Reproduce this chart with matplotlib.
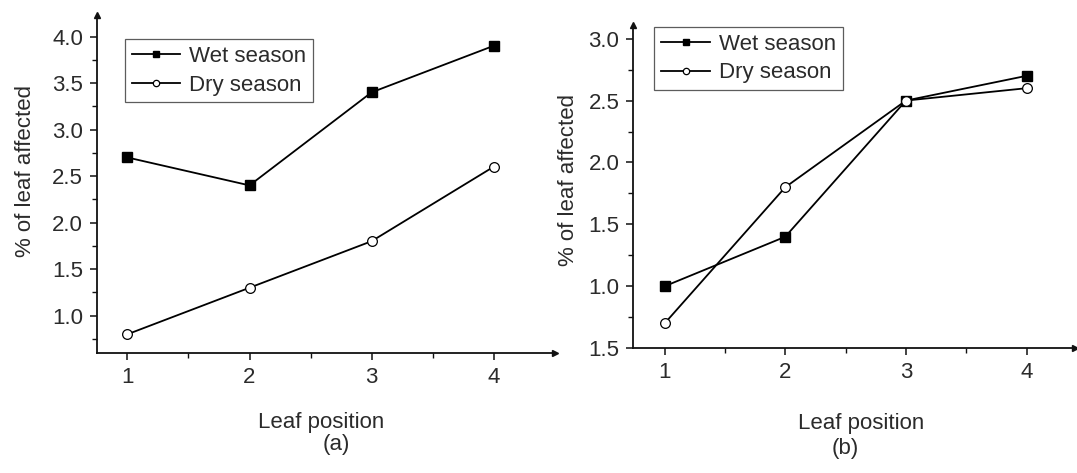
import numpy as np
import matplotlib
matplotlib.use('Agg')
import matplotlib.pyplot as plt
from matplotlib.ticker import FixedLocator, MultipleLocator

plt.rcParams['font.family'] = ['Liberation Sans', 'DejaVu Sans']

# ─── data ───
positions = [1, 2, 3, 4]

wet_a = [2.7, 2.4, 3.4, 3.9]
dry_a = [0.8, 1.3, 1.8, 2.6]

wet_b = [1.0, 1.4, 2.5, 2.7]
dry_b = [0.7, 1.8, 2.5, 2.6]

yticks_a = [1.0, 1.5, 2.0, 2.5, 3.0, 3.5, 4.0]
yticks_b = [0.5, 1.0, 1.5, 2.0, 2.5, 3.0]
# the original figure labels its bottom tick "1.5"
ylabels_b = ['1.5', '1.0', '1.5', '2.0', '2.5', '3.0']

TXT = '#2b2b2b'
FS = 16

fig = plt.figure(figsize=(10.77, 4.73), dpi=100)
ax_a = fig.add_axes([0.090, 0.254, 0.425, 0.714])
ax_b = fig.add_axes([0.588, 0.264, 0.410, 0.683])


def style(ax, xlim, ylim, yticks, ylabels, tag, pos):
    ax.set_xlim(*xlim)
    ax.set_ylim(*ylim)
    for s in ['top', 'right']:
        ax.spines[s].set_visible(False)
    for s in ['left', 'bottom']:
        ax.spines[s].set_linewidth(1.3)
        ax.spines[s].set_color('#111111')
    ax.set_xticks(positions)
    ax.set_xticklabels([str(p) for p in positions])
    ax.xaxis.set_minor_locator(FixedLocator([1.5, 2.5, 3.5]))
    ax.set_yticks(yticks)
    ax.set_yticklabels(ylabels)
    ax.yaxis.set_minor_locator(MultipleLocator(0.25))
    ax.tick_params(which='major', direction='out', length=5, width=1.1,
                   colors='#111111', labelcolor=TXT, labelsize=FS, pad=5)
    ax.tick_params(which='minor', direction='out', length=3.5, width=1.0,
                   colors='#111111')
    yl, xl, tg = pos
    ax.text(yl[0], yl[1], '% of leaf affected', transform=ax.transAxes,
            rotation=90, ha='center', va='center', fontsize=FS, color=TXT)
    ax.text(xl[0], xl[1], 'Leaf position', transform=ax.transAxes,
            ha='center', va='center', fontsize=FS, color=TXT)
    ax.text(tg[0], tg[1], tag, transform=ax.transAxes,
            ha='center', va='center', fontsize=FS, color=TXT)
    # arrow heads at the axis ends
    ax.plot([0], [1], marker='^', ms=4, color='#111111', transform=ax.transAxes,
            clip_on=False)
    ax.plot([1], [0], marker='>', ms=4, color='#111111', transform=ax.transAxes,
            clip_on=False)


for ax, wet, dry in [(ax_a, wet_a, dry_a), (ax_b, wet_b, dry_b)]:
    ax.plot(positions, wet, color='black', lw=1.3, marker='s', ms=6.5,
            mfc='black', mec='black', label='Wet season', clip_on=False, zorder=3)
    ax.plot(positions, dry, color='black', lw=1.3, marker='o', ms=7,
            mfc='white', mec='black', mew=0.9, label='Dry season', clip_on=False,
            zorder=3)

style(ax_a, (0.75, 4.5), (0.6, 4.23), yticks_a,
      ['%.1f' % v for v in yticks_a], '(a)',
      ((-0.157, 0.538), (0.489, -0.207), (0.524, -0.272)))
style(ax_b, (0.74, 4.4), (0.5, 3.11), yticks_b, ylabels_b, '(b)',
      ((-0.147, 0.52), (0.516, -0.232), (0.48, -0.31)))

for ax, anchor in [(ax_a, (0.061, 0.929)), (ax_b, (0.048, 0.994))]:
    leg = ax.legend(loc='upper left', bbox_to_anchor=anchor, fontsize=FS,
                    frameon=True, fancybox=False, handlelength=2.2,
                    handletextpad=0.4, borderpad=0.3, labelspacing=0.35,
                    markerscale=0.65, borderaxespad=0)
    leg.get_frame().set_edgecolor('#333333')
    leg.get_frame().set_linewidth(0.9)
    for t in leg.get_texts():
        t.set_color(TXT)

fig.savefig('out.png', dpi=100)
